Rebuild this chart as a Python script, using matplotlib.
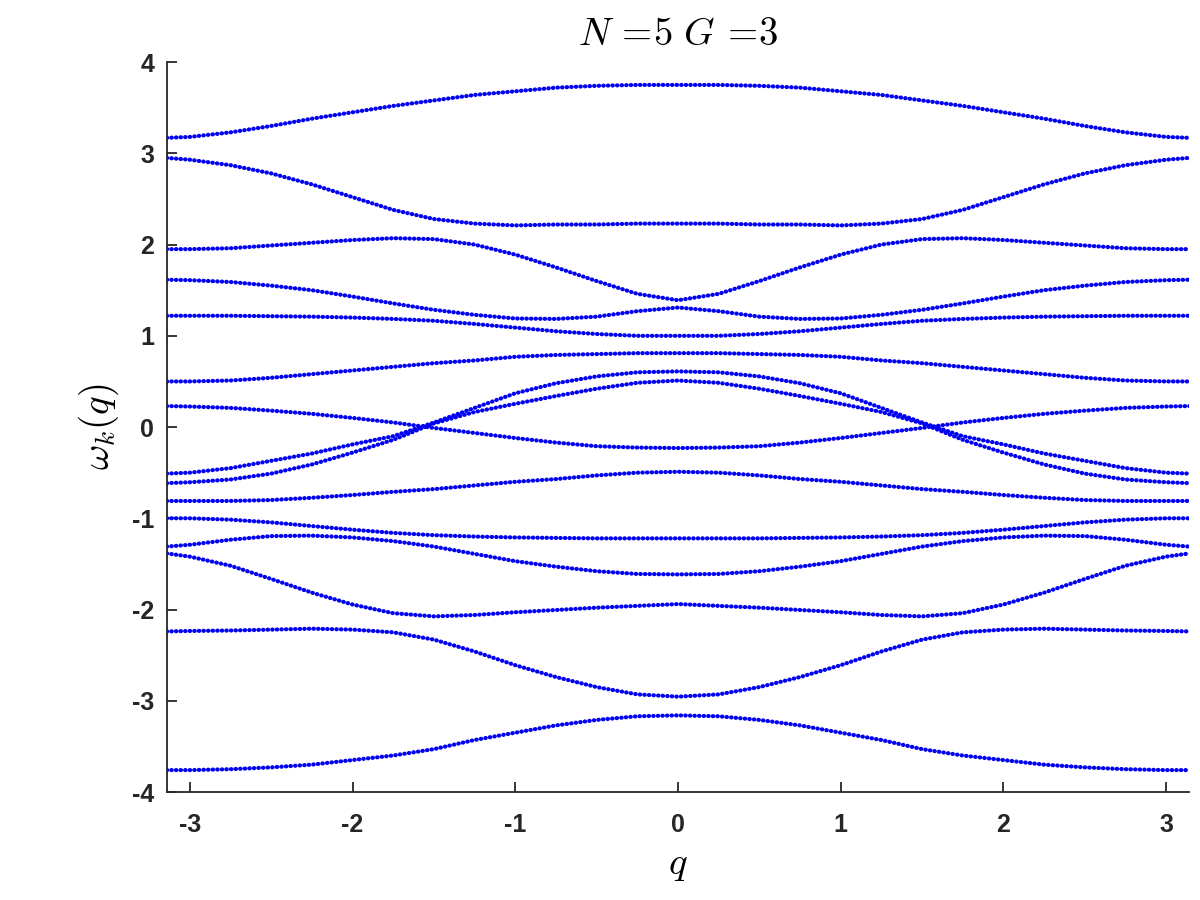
import matplotlib
matplotlib.use("Agg")
import matplotlib.pyplot as plt
import numpy as np

plt.rcParams["mathtext.fontset"] = "cm"
plt.rcParams["axes.unicode_minus"] = False

# q grid (from -pi to pi)
q = [-3.1416, -3.0, -2.75, -2.5, -2.25, -2.0, -1.75, -1.5, -1.25, -1.0, -0.75, -0.5, -0.25,
     0.0, 0.25, 0.5, 0.75, 1.0, 1.25, 1.5, 1.75, 2.0, 2.25, 2.5, 2.75, 3.0, 3.1416]

# band energies, top to bottom (at q = 0)
band_a = [3.17, 3.18, 3.23, 3.30, 3.38, 3.45, 3.52, 3.58, 3.64, 3.68, 3.72, 3.74, 3.75, 3.75,
          3.75, 3.74, 3.72, 3.68, 3.64, 3.58, 3.52, 3.45, 3.38, 3.30, 3.23, 3.18, 3.17]
band_b = [2.95, 2.93, 2.87, 2.78, 2.66, 2.52, 2.38, 2.28, 2.23, 2.21, 2.22, 2.22, 2.23, 2.23,
          2.23, 2.22, 2.22, 2.21, 2.23, 2.28, 2.38, 2.52, 2.66, 2.78, 2.87, 2.93, 2.95]
band_c = [1.95, 1.95, 1.96, 1.99, 2.02, 2.05, 2.07, 2.06, 2.00, 1.89, 1.75, 1.60, 1.46, 1.39,
          1.46, 1.60, 1.75, 1.89, 2.00, 2.06, 2.07, 2.05, 2.02, 1.99, 1.96, 1.95, 1.95]
band_d = [1.615, 1.61, 1.59, 1.55, 1.50, 1.43, 1.355, 1.285, 1.23, 1.19, 1.185, 1.21, 1.27, 1.31,
          1.27, 1.21, 1.185, 1.19, 1.23, 1.285, 1.355, 1.43, 1.50, 1.55, 1.59, 1.61, 1.615]
band_e = [1.22, 1.22, 1.22, 1.215, 1.21, 1.20, 1.185, 1.165, 1.13, 1.09, 1.05, 1.02, 1.00, 1.00,
          1.00, 1.02, 1.05, 1.09, 1.13, 1.165, 1.185, 1.20, 1.21, 1.215, 1.22, 1.22, 1.22]
band_f = [0.50, 0.50, 0.51, 0.54, 0.58, 0.62, 0.66, 0.70, 0.73, 0.77, 0.79, 0.80, 0.81, 0.81,
          0.81, 0.80, 0.79, 0.77, 0.73, 0.70, 0.66, 0.62, 0.58, 0.54, 0.51, 0.50, 0.50]
band_g = [-0.51, -0.50, -0.45, -0.37, -0.29, -0.19, -0.10, 0.05, 0.21, 0.37, 0.48, 0.555, 0.60, 0.61,
          0.60, 0.555, 0.48, 0.37, 0.21, 0.05, -0.10, -0.19, -0.29, -0.37, -0.45, -0.50, -0.51]
band_h = [-0.615, -0.605, -0.575, -0.51, -0.41, -0.28, -0.14, 0.04, 0.165, 0.255, 0.34, 0.42, 0.485, 0.51,
          0.485, 0.42, 0.34, 0.255, 0.165, 0.04, -0.14, -0.28, -0.41, -0.51, -0.575, -0.605, -0.615]
band_i = [0.23, 0.225, 0.21, 0.18, 0.145, 0.10, 0.05, -0.01, -0.065, -0.12, -0.17, -0.21, -0.225, -0.23,
          -0.225, -0.21, -0.17, -0.12, -0.065, -0.01, 0.05, 0.10, 0.145, 0.18, 0.21, 0.225, 0.23]
band_j = [-0.81, -0.81, -0.81, -0.80, -0.775, -0.745, -0.71, -0.68, -0.64, -0.60, -0.57, -0.53, -0.50, -0.49,
          -0.50, -0.53, -0.57, -0.60, -0.64, -0.68, -0.71, -0.745, -0.775, -0.80, -0.81, -0.81, -0.81]
band_k = [-1.00, -1.00, -1.015, -1.045, -1.085, -1.125, -1.16, -1.185, -1.20, -1.21, -1.215, -1.22, -1.22, -1.22,
          -1.22, -1.22, -1.215, -1.21, -1.20, -1.185, -1.16, -1.125, -1.085, -1.045, -1.015, -1.00, -1.00]
band_l = [-1.31, -1.29, -1.235, -1.195, -1.19, -1.21, -1.25, -1.31, -1.39, -1.47, -1.53, -1.58, -1.61, -1.615,
          -1.61, -1.58, -1.53, -1.47, -1.39, -1.31, -1.25, -1.21, -1.19, -1.195, -1.235, -1.29, -1.31]
band_m = [-1.385, -1.42, -1.52, -1.665, -1.815, -1.945, -2.04, -2.075, -2.06, -2.03, -2.005, -1.98, -1.96, -1.94,
          -1.96, -1.98, -2.005, -2.03, -2.06, -2.075, -2.04, -1.945, -1.815, -1.665, -1.52, -1.42, -1.385]
band_n = [-2.24, -2.235, -2.23, -2.22, -2.21, -2.22, -2.25, -2.33, -2.46, -2.61, -2.74, -2.85, -2.93, -2.955,
          -2.93, -2.85, -2.74, -2.61, -2.46, -2.33, -2.25, -2.22, -2.21, -2.22, -2.23, -2.235, -2.24]
band_o = [-3.76, -3.76, -3.75, -3.73, -3.70, -3.65, -3.60, -3.53, -3.43, -3.35, -3.27, -3.21, -3.17, -3.16,
          -3.17, -3.21, -3.27, -3.35, -3.43, -3.53, -3.60, -3.65, -3.70, -3.73, -3.75, -3.76, -3.76]

bands = [band_a, band_b, band_c, band_d, band_e, band_f, band_g, band_h,
         band_i, band_j, band_k, band_l, band_m, band_n, band_o]

xticks = [-3, -2, -1, 0, 1, 2, 3]
yticks = [-4, -3, -2, -1, 0, 1, 2, 3, 4]

fig = plt.figure(figsize=(12, 9), dpi=100)
ax = fig.add_axes([0.139, 0.12, 0.852, 0.811])

# dense dots like MATLAB's '.' markers
for band in bands:
    ax.plot(q, band, color=(0, 0, 0.95), lw=3.0, dashes=(0.1, 1.0),
            dash_capstyle="round", solid_capstyle="round")

ax.set_xlim(-np.pi, np.pi)
ax.set_ylim(-4, 4)
ax.set_xticks(xticks)
ax.set_yticks(yticks)

dark = (0.15, 0.15, 0.15)
for side in ["top", "right"]:
    ax.spines[side].set_visible(False)
for side in ["left", "bottom"]:
    ax.spines[side].set_linewidth(1.3)
    ax.spines[side].set_color(dark)
ax.tick_params(direction="in", length=7.2, width=1.3, color=dark,
               labelcolor=dark, labelsize=18)
ax.tick_params(axis="x", pad=15)
ax.tick_params(axis="y", pad=9)
for lab in ax.get_xticklabels() + ax.get_yticklabels():
    lab.set_fontweight("bold")
    lab.set_family("Liberation Sans")

ax.set_title(r"$N\,=\!5\ G\,=\!3$", fontsize=28, pad=12)
ax.set_xlabel(r"$q$", fontsize=28, labelpad=6)
ax.set_ylabel(r"$\omega_k(q)$", fontsize=28, labelpad=8)

fig.savefig("out.png", dpi=100)
